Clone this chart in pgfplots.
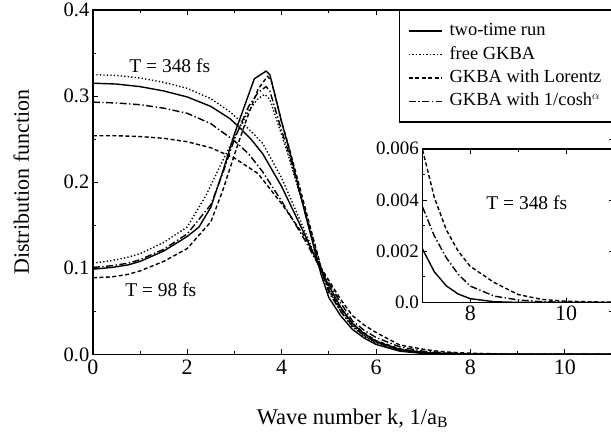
\documentclass[border=0pt]{standalone}
\usepackage{fontspec}
\setmainfont{Liberation Serif}
\usepackage{pgfplots}
\usepackage{pgfplotstable}
\pgfplotsset{compat=1.18}

% T = 348 fs
\pgfplotstableread{
k f
0 0.315
0.5 0.314
1 0.311
1.5 0.306
2 0.299
2.5 0.288
2.9 0.274
3.1 0.264
3.35 0.250
3.6 0.233
4 0.195
4.5 0.138
4.84 0.097
5 0.080
5.25 0.055
5.5 0.036
5.75 0.024
6 0.0154
6.5 0.0058
7 0.0021
7.25 0.0012
7.5 0.00065
7.75 0.00033
8 0.00015
8.5 0.00003
9 0.000005
11 0
}\hsolid
\pgfplotstableread{
k f
0 0.325
0.5 0.324
1 0.321
1.5 0.316
2 0.309
2.5 0.297
2.9 0.282
3.3 0.262
3.6 0.245
4 0.205
4.5 0.142
4.84 0.098
5 0.078
5.25 0.052
5.5 0.034
5.75 0.022
6 0.014
6.5 0.005
7 0.0016
7.5 0.0005
8 0.00012
9 0
11 0
}\hdot
\pgfplotstableread{
k f
0 0.254
0.5 0.254
1 0.253
1.5 0.251
2 0.247
2.5 0.240
3 0.228
3.5 0.210
4 0.175
4.5 0.136
4.84 0.100
5 0.086
5.25 0.064
5.5 0.045
5.75 0.034
6 0.0255
6.5 0.011
7 0.006
7.25 0.0041
7.5 0.00284
7.75 0.0020
8 0.00141
8.5 0.00078
9 0.00031
9.5 0.00012
10 0.00005
11 0.00001
}\hdash
\pgfplotstableread{
k f
0 0.293
0.5 0.292
1 0.290
1.5 0.286
2 0.280
2.5 0.268
3 0.248
3.3 0.233
3.6 0.212
4 0.178
4.5 0.132
4.84 0.098
5 0.083
5.25 0.060
5.5 0.039
5.75 0.028
6 0.0197
6.5 0.0088
7 0.00375
7.25 0.0026
7.5 0.00175
7.75 0.0011
8 0.00064
8.5 0.00025
9 0.0001
9.5 0.00003
10 0.00001
11 0
}\hdashdot

\pgfplotsset{
  mycurve/.style={line width=1.4pt, black},
  mydashed/.style={dash pattern=on 4pt off 2.5pt},
  mydotted/.style={dash pattern=on 1.3pt off 2.2pt},
  mydashdot/.style={dash pattern=on 7pt off 2.5pt on 1.4pt off 2.5pt},
}

\begin{document}
\begin{tikzpicture}
\useasboundingbox (-93pt,-81pt) rectangle (519pt,355pt);
\begin{axis}[
  at={(0pt,0pt)}, anchor=south west,
  scale only axis, width=520pt, height=345pt,
  xmin=0, xmax=11, ymin=0, ymax=0.4,
  font=\fontsize{19}{22}\selectfont,
  /pgf/number format/assume math mode=true,
  xticklabel style={font=\fontsize{22}{24}\selectfont, yshift=-2pt},
  yticklabel style={font=\fontsize{20.5}{23}\selectfont},
  xtick={0,2,4,6,8,10},
  xticklabels={\mbox{0},\mbox{2},\mbox{4},\mbox{6},\mbox{8},\mbox{10}},
  ytick={0,0.1,0.2,0.3,0.4},
  yticklabels={\mbox{0.0},\mbox{0.1},\mbox{0.2},\mbox{0.3},\mbox{0.4}},
  minor x tick num=1, minor y tick num=1,
  tick align=inside,
  major tick length=5pt, minor tick length=3pt,
  axis line style={line width=1.6pt},
  every tick/.style={black, line width=0.8pt},
  xlabel={Wave number k, 1/a\textsubscript{B}},
  ylabel={Distribution function},
  xlabel style={font=\fontsize{22.5}{25}\selectfont, at={(axis description cs:0.5,-0.185)}, anchor=center},
  ylabel style={font=\fontsize{22}{25}\selectfont, at={(axis description cs:-0.138,0.5)}, anchor=center},
  legend style={at={(1,1)}, anchor=north east, draw=black, line width=1.2pt,
    fill=white, font=\fontsize{18.5}{21}\selectfont,
    inner xsep=9pt, inner ysep=11pt, row sep=4.5pt, column sep=6pt,
    nodes={inner sep=1pt, text height=13pt, text depth=4pt}},
  legend cell align=left,
  legend image code/.code={\draw[#1, line width=1.4pt] (0pt,0pt) -- (33pt,0pt);},
]
\addplot[mycurve] table[x=k,y=f] {\hsolid};
\addlegendentry{two-time run}
\addplot[mycurve, mydotted] table[x=k,y=f] {\hdot};
\addlegendentry{free GKBA}
\addplot[mycurve, mydashed] table[x=k,y=f] {\hdash};
\addlegendentry{GKBA with Lorentz}
\addplot[mycurve, mydashdot] table[x=k,y=f] {\hdashdot};
\addlegendentry{GKBA with 1/cosh$^\alpha$}

% T = 98 fs
\addplot[mycurve, forget plot] coordinates {
(0,0.099)(0.4,0.101)(0.75,0.104)(1,0.108)(1.5,0.120)(2,0.137)(2.25,0.148)
(2.5,0.171)(2.75,0.212)(3,0.256)(3.25,0.294)(3.42,0.320)(3.67,0.329)(3.75,0.325)
(4,0.270)(4.16,0.238)(4.5,0.163)(4.84,0.092)(5,0.066)(5.25,0.045)(5.5,0.029)
(5.75,0.019)(6,0.0116)(6.5,0.0038)(7,0.0011)(7.5,0.0003)(8,0.00006)(9,0)(11,0)};
\addplot[mycurve, mydotted, forget plot] coordinates {
(0,0.106)(0.4,0.109)(0.75,0.113)(1,0.117)(1.5,0.130)(2,0.148)(2.4,0.185)
(2.75,0.225)(3,0.252)(3.3,0.283)(3.5,0.297)(3.64,0.302)(3.75,0.296)(4,0.255)
(4.16,0.228)(4.5,0.165)(4.84,0.100)(5,0.075)(5.25,0.050)(5.5,0.032)(5.75,0.021)
(6,0.013)(6.5,0.0045)(7,0.0014)(8,0.0001)(9,0)(11,0)};
\addplot[mycurve, mydashed, forget plot] coordinates {
(0,0.089)(0.4,0.090)(0.75,0.093)(1,0.097)(1.5,0.108)(2,0.123)(2.5,0.154)
(2.75,0.190)(3,0.232)(3.25,0.272)(3.5,0.308)(3.7,0.323)(3.78,0.318)(4,0.270)
(4.16,0.240)(4.5,0.170)(4.84,0.100)(5,0.075)(5.25,0.053)(5.5,0.036)(5.75,0.025)
(6,0.016)(6.5,0.0065)(7,0.0025)(8,0.0003)(9,0.00003)(11,0)};
\addplot[mycurve, mydashdot, forget plot] coordinates {
(0,0.101)(0.4,0.103)(0.75,0.106)(1,0.110)(1.5,0.122)(2,0.140)(2.5,0.174)
(2.75,0.210)(3,0.250)(3.3,0.288)(3.5,0.304)(3.67,0.311)(3.75,0.306)(4,0.260)
(4.16,0.232)(4.5,0.165)(4.84,0.097)(5,0.072)(5.25,0.050)(5.5,0.033)(5.75,0.022)
(6,0.014)(6.5,0.005)(7,0.0016)(8,0.0001)(9,0)(11,0)};

\node[font=\fontsize{19.5}{22}\selectfont] at (axis cs:1.63,0.335) {T = 348 fs};
\node[font=\fontsize{19.5}{22}\selectfont] at (axis cs:1.44,0.075) {T = 98 fs};
\end{axis}

\begin{axis}[
  at={(330pt,52pt)}, anchor=south west,
  scale only axis, width=192pt, height=154pt,
  xmin=7, xmax=11, ymin=0, ymax=0.006,
  axis background/.style={fill=white},
  /pgf/number format/assume math mode=true,
  xticklabel style={font=\fontsize{22}{24}\selectfont},
  yticklabel style={font=\fontsize{19}{21}\selectfont},
  xtick={8,10}, xticklabels={\mbox{8},\mbox{10}},
  minor xtick={7,9,11},
  ytick={0,0.002,0.004,0.006},
  yticklabels={\mbox{0.0},\mbox{0.002},\mbox{0.004},\mbox{0.006}},
  minor y tick num=1,
  scaled y ticks=false,
  tick align=inside,
  major tick length=5pt, minor tick length=3pt,
  axis line style={line width=1.6pt},
  every tick/.style={black, line width=0.8pt},
]
\addplot[mycurve] table[x=k,y=f] {\hsolid};
\addplot[mycurve, mydashed] table[x=k,y=f] {\hdash};
\addplot[mycurve, mydashdot] table[x=k,y=f] {\hdashdot};
\node[font=\fontsize{19.5}{22}\selectfont] at (axis cs:9.18,0.0039) {T = 348 fs};
\end{axis}
\end{tikzpicture}
\end{document}
